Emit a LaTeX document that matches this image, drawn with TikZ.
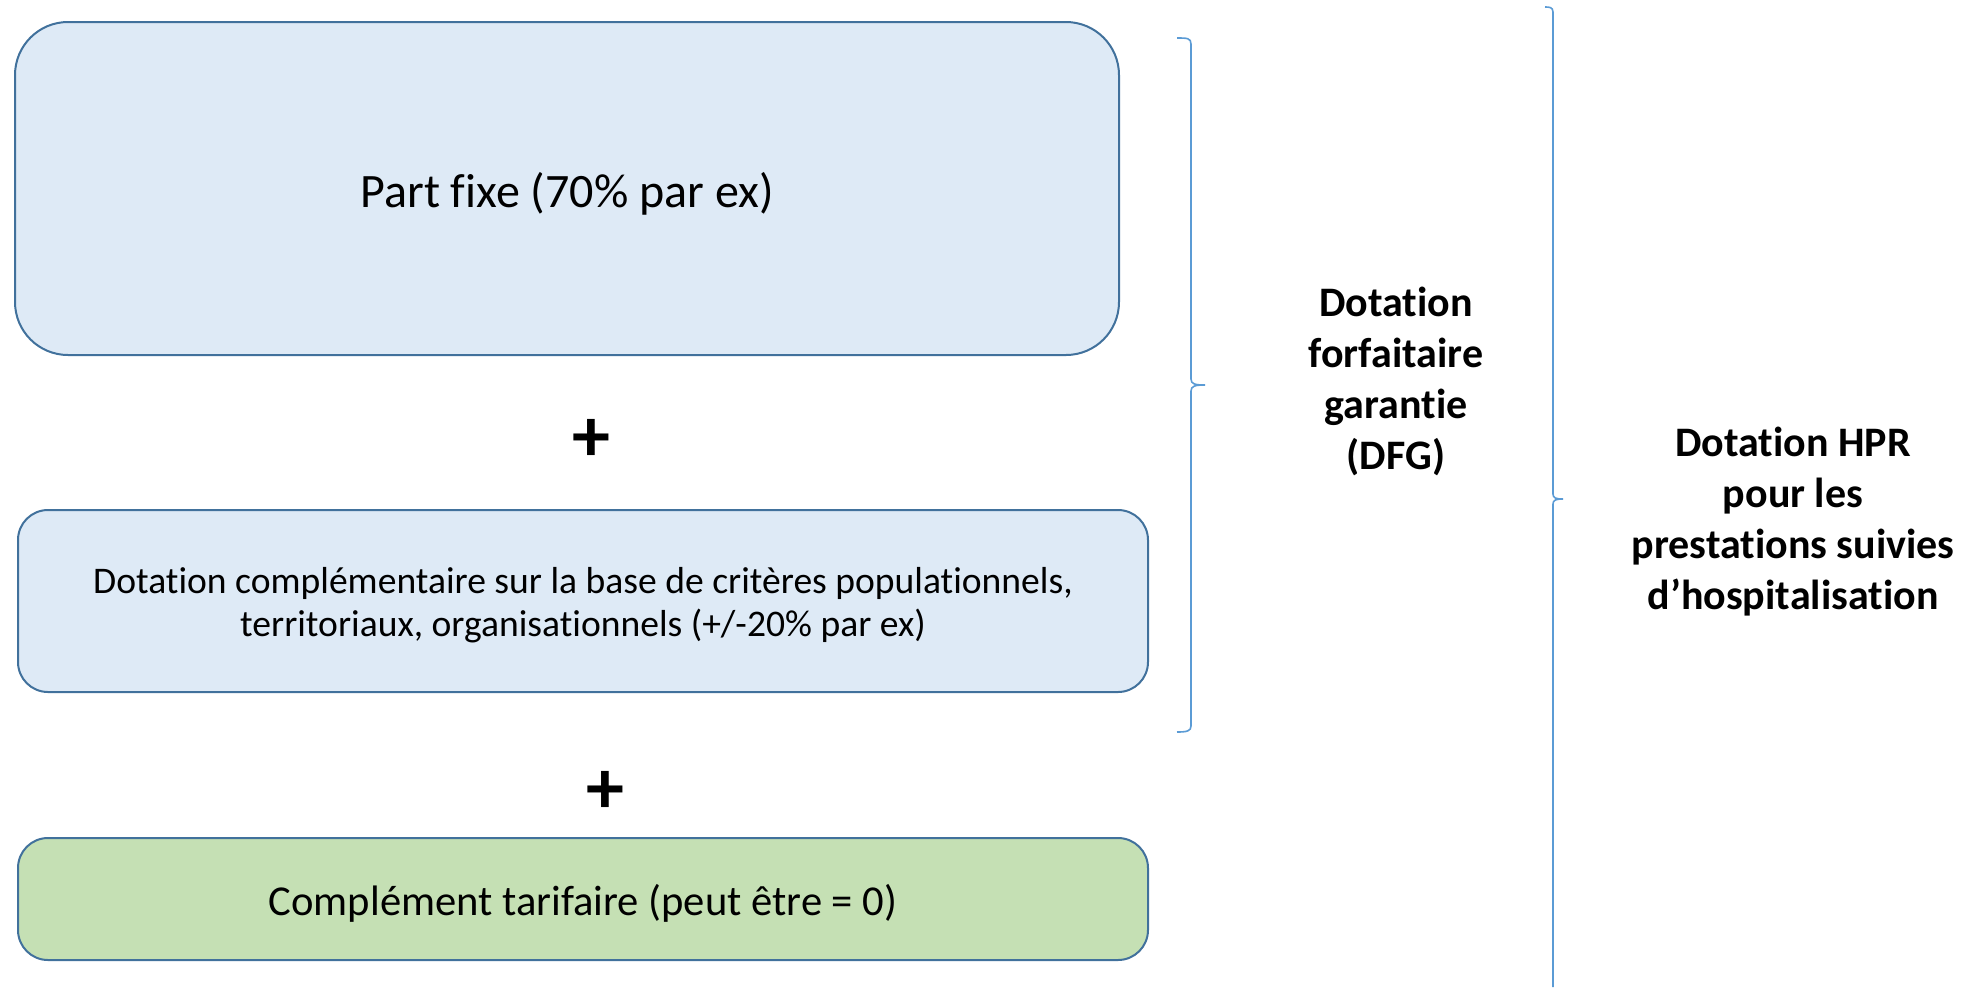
\documentclass[tikz,border=0pt]{standalone}
\usepackage{fontspec}
\setmainfont[RawFeature=-liga]{Carlito}
\definecolor{boxblue}{HTML}{DEEAF6}
\definecolor{boxgreen}{HTML}{C5E0B4}
\definecolor{boxline}{HTML}{41719C}
\definecolor{bracecol}{HTML}{5B9BD5}
\newcommand{\lowered}[2]{\raisebox{-#1}[\height][\depth]{#2}}
\tikzset{
  box/.style={draw=boxline, line width=1pt, align=center, inner sep=0pt},
  brace/.style={draw=bracecol, line width=0.8pt},
  lbl/.style={align=center, font=\bfseries\fontsize{21}{25.5}\selectfont},
  plus/.style={font=\bfseries\fontsize{38}{40}\selectfont, inner sep=0pt}
}
\begin{document}
\begin{tikzpicture}[x=0.5pt,y=-0.5pt]
\useasboundingbox (0,0) rectangle (1972,987);
\node[box, fill=boxblue, minimum width=552pt, minimum height=166.5pt, rounded corners=26.5pt,
  font=\fontsize{24}{28}\selectfont] (fixe) at (567,188.5) {\lowered{2.5pt}{Part fixe (70\% par ex)}};
\node[box, fill=boxblue, minimum width=565pt, minimum height=91pt, rounded corners=15pt,
  font=\fontsize{18.8}{21.5}\selectfont] (compl) at (583,601)
  {\lowered{2pt}{Dotation complémentaire sur la base de critères populationnels,}\\\lowered{2pt}{territoriaux, organisationnels (+/-20\% par ex)}};
\node[box, fill=boxgreen, minimum width=565pt, minimum height=61pt, rounded corners=15pt,
  font=\fontsize{21.3}{24}\selectfont] (tarif) at (583,899) {\lowered{2pt}{Complément tarifaire (peut être = 0)}};
\node[plus] (p1) at (591,440) {+};
\node[plus] (p2) at (605,792) {+};
% DFG brace
\coordinate (d1) at (1177,38);
\coordinate (d2) at (1205,385);
\coordinate (d3) at (1177,732);
\draw[brace] (d1) .. controls (1187,38) and (1191,38) .. (1191,44) -- (1191,379)
  .. controls (1191,384) and (1195,385) .. (d2) .. controls (1195,385) and (1191,386) .. (1191,391)
  -- (1191,726) .. controls (1191,731) and (1187,732) .. (d3);
% HPR brace
\coordinate (h1) at (1545,7);
\coordinate (h2) at (1563,499);
\coordinate (h3) at (1553,987);
\draw[brace] (h1) .. controls (1549,7) and (1553,7) .. (1553,12) -- (1553,494)
  .. controls (1553,498) and (1556,499) .. (h2) .. controls (1556,499) and (1553,500) .. (1553,504)
  -- (h3);
\node[lbl] (dfg) at (1396,381) {Dotation\\forfaitaire\\garantie\\(DFG)};
\node[lbl] (hpr) at (1793,522) {Dotation HPR\\pour les\\prestations suivies\\d’hospitalisation};
\end{tikzpicture}
\end{document}
